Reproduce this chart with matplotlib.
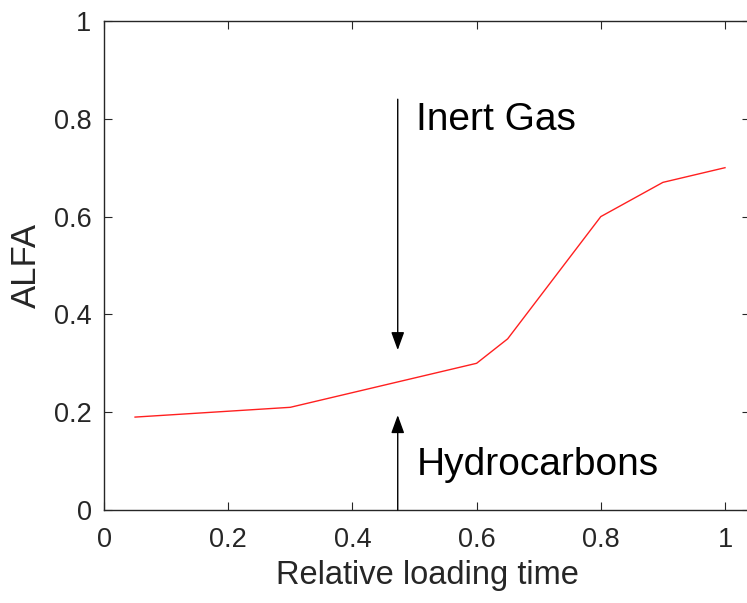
import matplotlib.pyplot as plt

plt.rcParams['font.family'] = ['Liberation Sans', 'DejaVu Sans']

# Loading curve
load_time = [0.05, 0.3, 0.6, 0.65, 0.8, 0.9, 1.0]
alfa = [0.19, 0.21, 0.30, 0.35, 0.60, 0.67, 0.70]

ticks = [0, 0.2, 0.4, 0.6, 0.8, 1]
tick_labels = ['0', '0.2', '0.4', '0.6', '0.8', '1']

# Arrow positions
arrow_x = 0.473
gas_arrow = (0.84, 0.327)
hc_arrow = (0.0, 0.194)

dark = '#262626'

fig = plt.figure(figsize=(7.47, 6.03), dpi=100)
ax = fig.add_axes([104 / 747, 93 / 603, 646 / 747, 489 / 603])

ax.plot(load_time, alfa, color='#ff2020', linewidth=1)

ax.set_xlim(0, 646 / 621)
ax.set_ylim(0, 1)
ax.set_xticks(ticks)
ax.set_xticklabels(tick_labels)
ax.set_yticks(ticks)
ax.set_yticklabels(tick_labels)
ax.tick_params(direction='in', length=6, width=0.8, colors=dark,
               labelsize=19.5, top=True, right=True)
ax.tick_params(axis='x', pad=12)
ax.tick_params(axis='y', pad=9)
for s in ax.spines.values():
    s.set_color(dark)
    s.set_linewidth(1)

ax.set_xlabel('Relative loading time', fontsize=23.5, color=dark, labelpad=5)
ax.set_ylabel('ALFA', fontsize=25, color=dark, labelpad=8)

head = dict(arrowstyle='-|>,head_length=1.1,head_width=0.4', color='black',
            linewidth=1, shrinkA=0, shrinkB=0)
ax.annotate('', xy=(arrow_x, gas_arrow[1]), xytext=(arrow_x, gas_arrow[0]),
            arrowprops=head)
ax.annotate('', xy=(arrow_x, hc_arrow[1]), xytext=(arrow_x, hc_arrow[0]),
            arrowprops=head)

ax.text(0.503, 0.797, 'Inert Gas', fontsize=28, color='black',
        ha='left', va='center')
ax.text(0.503, 0.092, 'Hydrocarbons', fontsize=28, color='black',
        ha='left', va='center')

fig.savefig('out.png', dpi=100)
